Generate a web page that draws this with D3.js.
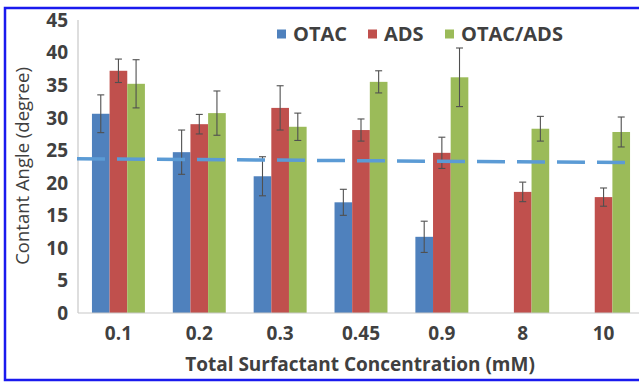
<!DOCTYPE html>
<html>
<head>
<meta charset="utf-8">
<script src="https://cdnjs.cloudflare.com/ajax/libs/d3/7.8.5/d3.min.js"></script>
<style>
  html, body { margin: 0; padding: 0; background: #fff; }
  svg { display: block; }
  text { font-family: "Open Sans", "Liberation Sans", sans-serif; fill: #404040; }
</style>
</head>
<body>
<svg id="chart" width="639" height="384"></svg>
<script>
// chart data
const categories = ['0.1', '0.2', '0.3', '0.45', '0.9', '8', '10'];
const seriesNames = ['OTAC', 'ADS', 'OTAC/ADS'];
const otac     = [30.6, 24.7, 21.0, 17.0, 11.7, null, null];
const otacErr  = [2.9, 3.4, 3.0, 2.0, 2.4, null, null];
const ads      = [37.2, 29.0, 31.5, 28.1, 24.6, 18.6, 17.8];
const adsErr   = [1.8, 1.5, 3.4, 1.7, 2.4, 1.5, 1.4];
const mix      = [35.2, 30.7, 28.6, 35.5, 36.2, 28.3, 27.8];
const mixErr   = [3.7, 3.4, 2.1, 1.7, 4.5, 1.9, 2.3];
const refLine  = [23.7, 23.1]; // dashed reference, left end -> right end
const yTicks   = [0, 5, 10, 15, 20, 25, 30, 35, 40, 45];

const colors = ['#4f81bd', '#c0504d', '#9bbb59'];
const values = [otac, ads, mix];
const errs = [otacErr, adsErr, mixErr];

const svg = d3.select('#chart');

// blue frame (right side is cropped off in the original)
svg.append('rect')
  .attr('x', 5).attr('y', 8).attr('width', 660).attr('height', 372)
  .attr('fill', 'none').attr('stroke', '#1a1aee').attr('stroke-width', 2.5);

const x0 = d3.scaleBand().domain(categories).range([78, 644]).paddingInner(0.345).paddingOuter(0.1725);
const x1 = d3.scaleBand().domain(seriesNames).range([0, x0.bandwidth()]);
const y = d3.scaleLinear().domain([0, 45]).range([313, 20]);

// axes lines
svg.append('line')
  .attr('x1', 78).attr('x2', 78).attr('y1', y(45)).attr('y2', y(0))
  .attr('stroke', '#c8c8c8').attr('stroke-width', 1.2);

// y tick labels
svg.append('g').selectAll('text').data(yTicks).join('text')
  .attr('x', 68).attr('y', d => y(d)).attr('dy', '0.36em')
  .attr('text-anchor', 'end')
  .style('font-size', '19px').style('font-weight', 700)
  .text(d => d);

// bars
const rows = [];
categories.forEach((c, i) => {
  seriesNames.forEach((s, k) => {
    if (values[k][i] != null) rows.push({ c, s, k, v: values[k][i], e: errs[k][i] });
  });
});

svg.append('g').selectAll('rect').data(rows).join('rect')
  .attr('x', d => x0(d.c) + x1(d.s))
  .attr('y', d => y(d.v))
  .attr('width', x1.bandwidth())
  .attr('height', d => y(0) - y(d.v))
  .attr('fill', d => colors[d.k]);

svg.append('line')
  .attr('x1', 78).attr('x2', 639).attr('y1', y(0)).attr('y2', y(0))
  .attr('stroke', '#c8c8c8').attr('stroke-width', 1.2);

// error bars
const eg = svg.append('g').attr('stroke', '#505050').attr('stroke-width', 1.1);
rows.forEach(d => {
  const cx = x0(d.c) + x1(d.s) + x1.bandwidth() / 2;
  eg.append('line').attr('x1', cx).attr('x2', cx).attr('y1', y(d.v + d.e)).attr('y2', y(d.v - d.e));
  eg.append('line').attr('x1', cx - 3.5).attr('x2', cx + 3.5).attr('y1', y(d.v + d.e)).attr('y2', y(d.v + d.e));
  eg.append('line').attr('x1', cx - 3.5).attr('x2', cx + 3.5).attr('y1', y(d.v - d.e)).attr('y2', y(d.v - d.e));
});

// dashed reference line
const [rx0, rx1] = x0.range();
svg.append('line')
  .attr('x1', rx0 - 1).attr('x2', rx1 - 12)
  .attr('y1', y(refLine[0])).attr('y2', y(refLine[1]))
  .attr('stroke', '#5b9bd5').attr('stroke-width', 3.5)
  .attr('stroke-dasharray', '28 12');

// x tick labels
svg.append('g').selectAll('text').data(categories).join('text')
  .attr('x', d => x0(d) + x0.bandwidth() / 2).attr('y', 333).attr('dy', '0.36em')
  .attr('text-anchor', 'middle')
  .style('font-size', '19px').style('font-weight', 700)
  .text(d => d);

// axis titles
svg.append('text')
  .attr('x', 360).attr('y', 364).attr('dy', '0.36em')
  .attr('text-anchor', 'middle')
  .style('font-size', '19px').style('font-weight', 700)
  .text('Total Surfactant Concentration (mM)');

svg.append('text')
  .attr('transform', 'translate(22,166) rotate(-90)')
  .attr('dy', '0.36em')
  .attr('text-anchor', 'middle')
  .style('font-size', '18.5px')
  .text('Contant Angle (degree)');

// legend
const legX = [277, 368, 445];
const lg = svg.append('g').selectAll('g').data(seriesNames).join('g')
  .attr('transform', (d, i) => `translate(${legX[i]},34)`);
lg.append('rect').attr('x', 0).attr('y', -4.5).attr('width', 9).attr('height', 9)
  .attr('fill', (d, i) => colors[i]);
lg.append('text').attr('x', 16).attr('dy', '0.36em')
  .style('font-size', '20px').style('font-weight', 700)
  .text(d => d);
</script>
</body>
</html>
